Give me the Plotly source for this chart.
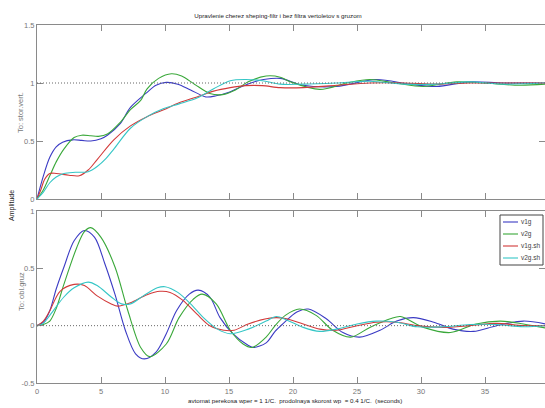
import plotly.graph_objects as go
from plotly.subplots import make_subplots

# ---------------- data ----------------
# Top panel: To: stor.vert.
top_v1g_t = [0, 0.5, 1.0, 1.5, 2.0, 2.8, 3.5, 4.2, 5.0, 5.5, 6.5, 7.3, 8.5, 9.3, 10.1, 11.0, 12.0, 13.2, 14.0, 15.0, 16.0, 17.0, 17.7, 19.0, 20.8, 23.4, 26.5, 29.1, 31.2, 33.8, 36.4, 39.7]
top_v1g_y = [0, 0.20, 0.36, 0.45, 0.49, 0.51, 0.505, 0.50, 0.52, 0.55, 0.65, 0.79, 0.91, 0.98, 1.005, 0.99, 0.94, 0.88, 0.89, 0.92, 0.97, 1.01, 1.03, 1.04, 0.98, 0.97, 1.03, 0.99, 0.97, 1.01, 1.0, 1.0]

top_v2g_t = [0, 0.5, 1.0, 1.5, 2.1, 2.9, 3.5, 4.2, 4.8, 5.5, 6.5, 7.3, 8.1, 8.6, 9.5, 10.5, 11.3, 12.3, 13.5, 14.5, 15.5, 16.5, 17.9, 19.0, 19.8, 22.1, 24.2, 26.0, 28.0, 30.2, 32.8, 34.9, 37.7, 39.7]
top_v2g_y = [0, 0.08, 0.20, 0.32, 0.43, 0.53, 0.55, 0.545, 0.54, 0.56, 0.66, 0.77, 0.85, 0.95, 1.04, 1.08, 1.06, 0.99, 0.91, 0.90, 0.94, 1.01, 1.06, 1.05, 1.01, 0.945, 1.0, 1.03, 1.0, 0.97, 1.01, 1.0, 0.98, 0.99]

top_v1gsh_t = [0, 0.3, 0.6, 1.0, 1.5, 2.5, 3.3, 4.0, 4.7, 6.0, 7.3, 8.6, 9.9, 11.1, 12.5, 13.8, 15.1, 16.3, 17.6, 19.0, 20.8, 23.4, 26.0, 28.7, 31.2, 33.8, 36.4, 39.7]
top_v1gsh_y = [0, 0.08, 0.17, 0.22, 0.22, 0.205, 0.20, 0.25, 0.34, 0.51, 0.63, 0.71, 0.77, 0.83, 0.88, 0.93, 0.96, 0.977, 0.977, 0.96, 0.96, 0.98, 1.0, 1.0, 0.99, 1.0, 1.0, 1.0]

top_v2gsh_t = [0, 0.5, 1.0, 1.5, 2.1, 3.0, 4.0, 4.7, 5.4, 6.0, 7.3, 8.6, 9.9, 11.1, 12.5, 13.8, 15.1, 16.3, 17.6, 19.0, 20.8, 23.4, 26.0, 28.7, 31.2, 33.8, 36.4, 39.7]
top_v2gsh_y = [0, 0.06, 0.14, 0.19, 0.22, 0.23, 0.235, 0.28, 0.35, 0.43, 0.61, 0.71, 0.78, 0.82, 0.87, 0.95, 1.02, 1.03, 1.02, 0.99, 0.99, 1.0, 1.015, 0.99, 0.99, 1.01, 0.99, 1.0]

# Bottom panel: To: obl.gruz
bot_v1g_t = [0, 0.5, 1.0, 1.5, 2.1, 2.9, 3.7, 4.5, 5.3, 6.1, 6.9, 7.7, 8.4, 9.3, 10.1, 10.9, 11.9, 12.6, 13.5, 14.3, 15.3, 16.4, 16.9, 17.9, 18.6, 19.2, 20.3, 21.2, 22.6, 23.9, 25.2, 26.8, 28.1, 29.4, 31.0, 32.5, 34.1, 35.9, 38.0, 39.7]
bot_v1g_y = [0, 0.03, 0.13, 0.32, 0.51, 0.74, 0.83, 0.77, 0.54, 0.27, -0.04, -0.245, -0.29, -0.23, -0.07, 0.13, 0.275, 0.31, 0.25, 0.07, -0.07, -0.165, -0.19, -0.15, -0.05, 0.015, 0.12, 0.145, 0.06, -0.06, -0.10, -0.04, 0.04, 0.07, 0.03, -0.03, -0.05, 0.0, 0.04, 0.015]

bot_v2g_t = [0, 0.5, 1.0, 1.5, 2.1, 3.1, 3.7, 4.2, 5.0, 6.1, 7.1, 8.1, 8.8, 10.1, 11.1, 12.2, 12.9, 14.0, 15.1, 16.1, 16.8, 17.9, 18.6, 19.4, 20.5, 21.8, 23.1, 24.5, 26.0, 27.6, 28.4, 30.2, 32.3, 34.3, 36.2, 38.0, 39.7]
bot_v2g_y = [0, 0.01, 0.04, 0.15, 0.36, 0.68, 0.82, 0.855, 0.77, 0.51, 0.13, -0.19, -0.27, -0.16, 0.07, 0.23, 0.275, 0.19, -0.04, -0.16, -0.19, -0.10, 0.0, 0.09, 0.145, 0.09, -0.04, -0.10, -0.015, 0.06, 0.08, -0.015, -0.06, 0.015, 0.04, 0.015, -0.02]

bot_v1gsh_t = [0, 0.5, 1.0, 1.8, 2.9, 3.7, 4.7, 5.8, 6.3, 7.3, 8.6, 9.6, 10.4, 11.4, 12.5, 13.5, 14.6, 15.4, 16.5, 17.9, 18.7, 19.5, 20.8, 22.1, 23.4, 25.0, 26.5, 28.1, 29.7, 31.7, 33.8, 35.9, 38.0, 39.7]
bot_v1gsh_y = [0, 0.04, 0.13, 0.30, 0.36, 0.35, 0.26, 0.19, 0.17, 0.20, 0.27, 0.30, 0.29, 0.22, 0.10, 0.0, -0.04, -0.04, 0.015, 0.06, 0.07, 0.06, 0.015, -0.03, -0.04, 0.0, 0.03, 0.03, 0.0, -0.015, 0.0, 0.02, 0.0, 0.0]

bot_v2gsh_t = [0, 0.5, 1.0, 2.1, 2.9, 4.0, 4.7, 5.8, 6.6, 7.3, 8.3, 9.4, 10.0, 11.0, 12.0, 13.0, 14.1, 15.1, 16.5, 17.9, 18.7, 19.5, 20.8, 22.1, 23.4, 25.0, 26.5, 28.1, 29.7, 31.7, 33.8, 35.9, 38.0, 39.7]
bot_v2gsh_y = [0, 0.02, 0.09, 0.25, 0.33, 0.38, 0.35, 0.25, 0.19, 0.19, 0.26, 0.33, 0.34, 0.29, 0.19, 0.07, -0.03, -0.07, -0.03, 0.04, 0.08, 0.05, -0.015, -0.05, -0.03, 0.015, 0.04, 0.03, -0.01, -0.01, 0.01, 0.01, -0.01, 0.0]

series_names = ["v1g", "v2g", "v1g.sh", "v2g.sh"]
series_colors = ["#3b3bc4", "#3aa83a", "#d23a3a", "#35c6c6"]

x_ticks = [0, 5, 10, 15, 20, 25, 30, 35]
top_y_ticks = [0, 0.5, 1, 1.5]
top_y_labels = ["0", "0.5", "1", "1.5"]
bot_y_ticks = [-0.5, 0, 0.5, 1]
bot_y_labels = ["-0.5", "0", "0.5", "1"]

title_text = "Upravlenie cherez sheping-filtr i bez filtra vertoletov s gruzom"
xlabel_text = "avtomat perekosa wper = 1 1/C.  prodolnaya skorost wp  = 0.4 1/C.  (seconds)"

# ---------------- figure ----------------
W, H = 545, 408
ML, MR, MT, MB = 37, 0, 25, 25
plot_h = H - MT - MB
NARROW = "Liberation Sans Narrow, Liberation Sans, Arial, sans-serif"

fig = make_subplots(rows=2, cols=1)

top_data = [(top_v1g_t, top_v1g_y), (top_v2g_t, top_v2g_y), (top_v1gsh_t, top_v1gsh_y), (top_v2gsh_t, top_v2gsh_y)]
bot_data = [(bot_v1g_t, bot_v1g_y), (bot_v2g_t, bot_v2g_y), (bot_v1gsh_t, bot_v1gsh_y), (bot_v2gsh_t, bot_v2gsh_y)]

for i, (t, y) in enumerate(top_data):
    fig.add_trace(go.Scatter(x=t, y=y, mode="lines", name=series_names[i], showlegend=False,
                             line=dict(color=series_colors[i], width=1.1, shape="spline", smoothing=0.9)),
                  row=1, col=1)
for i, (t, y) in enumerate(bot_data):
    fig.add_trace(go.Scatter(x=t, y=y, mode="lines", name=series_names[i], showlegend=False,
                             line=dict(color=series_colors[i], width=1.1, shape="spline", smoothing=0.9)),
                  row=2, col=1)

axis_common = dict(showline=True, linecolor="#8a8a8a", linewidth=1, mirror="ticks",
                   ticks="inside", ticklen=6, tickcolor="#8a8a8a", showgrid=False, zeroline=False,
                   tickfont=dict(family=NARROW, size=7.5, color="#777777"))

xr = [0, (W - ML - MR) / 12.8]
top_dom = [(H - MB - 199) / plot_h, 1.0]
bot_dom = [0.0, (H - MB - 211) / plot_h]

fig.update_xaxes(range=xr, tickvals=x_ticks, **axis_common)
fig.update_xaxes(showticklabels=False, row=1, col=1)
fig.update_xaxes(ticklabelstandoff=1, row=2, col=1)
fig.update_yaxes(**axis_common)
fig.update_yaxes(range=[0, 1.5], tickvals=top_y_ticks, ticktext=top_y_labels, domain=top_dom, row=1, col=1)
fig.update_yaxes(range=[-0.5, 1], tickvals=bot_y_ticks, ticktext=bot_y_labels, domain=bot_dom, row=2, col=1)

# steady-state dotted reference lines
fig.add_shape(type="line", xref="x", yref="y", x0=xr[0], x1=xr[1], y0=1, y1=1,
              line=dict(color="#666666", width=1, dash="1px,2px"))
fig.add_shape(type="line", xref="x2", yref="y2", x0=xr[0], x1=xr[1], y0=0, y1=0,
              line=dict(color="#666666", width=1, dash="1px,2px"))

def py2paper(py):
    return (H - MB - py) / plot_h

def px2paper(px):
    return (px - ML) / (W - ML - MR)

txt_font = dict(family=NARROW, size=7.5, color="#777777")
fig.add_annotation(text="To: stor.vert.", x=px2paper(21), y=py2paper(113), xref="paper", yref="paper",
                   textangle=-90, showarrow=False, font=txt_font, xanchor="center", yanchor="middle")
fig.add_annotation(text="To: obl.gruz", x=px2paper(21), y=py2paper(292), xref="paper", yref="paper",
                   textangle=-90, showarrow=False, font=txt_font, xanchor="center", yanchor="middle")
fig.add_annotation(text="Amplitude", x=px2paper(12), y=py2paper(206), xref="paper", yref="paper",
                   textangle=-90, showarrow=False, font=dict(family=NARROW, size=7, color="#222222"),
                   xanchor="center", yanchor="middle")
fig.add_annotation(text=xlabel_text, x=px2paper(295), y=py2paper(400), xref="paper", yref="paper",
                   showarrow=False, font=dict(family=NARROW, size=6.2, color="#222222"),
                   xanchor="center", yanchor="middle")

# legend box (bottom panel, upper right)
leg_x0, leg_x1, leg_y0, leg_y1 = 500, 543, 215, 265
fig.add_shape(type="rect", xref="paper", yref="paper",
              x0=px2paper(leg_x0), x1=px2paper(leg_x1), y0=py2paper(leg_y1), y1=py2paper(leg_y0),
              line=dict(color="#444444", width=1), fillcolor="white", layer="above")
leg_rows = [222, 234, 246, 258]
for name, color, ry in zip(series_names, series_colors, leg_rows):
    fig.add_shape(type="line", xref="paper", yref="paper",
                  x0=px2paper(503), x1=px2paper(518), y0=py2paper(ry), y1=py2paper(ry),
                  line=dict(color=color, width=1.1), layer="above")
    fig.add_annotation(text=name, x=px2paper(520), y=py2paper(ry), xref="paper", yref="paper",
                       showarrow=False, xanchor="left", yanchor="middle", borderpad=0,
                       font=dict(family=NARROW, size=6.5, color="#444444"))

fig.update_layout(
    width=W, height=H,
    margin=dict(l=ML, r=MR, t=MT, b=MB, pad=0),
    paper_bgcolor="white", plot_bgcolor="white",
    title=dict(text=title_text, x=278 / W, xanchor="center", y=1 - 16 / H, yanchor="middle",
               font=dict(family=NARROW, size=6.2, color="#222222")),
    showlegend=False,
)

fig.write_html("out.html", config={"displayModeBar": False},
               post_script="document.body.style.margin='0';document.body.style.overflow='hidden';")
